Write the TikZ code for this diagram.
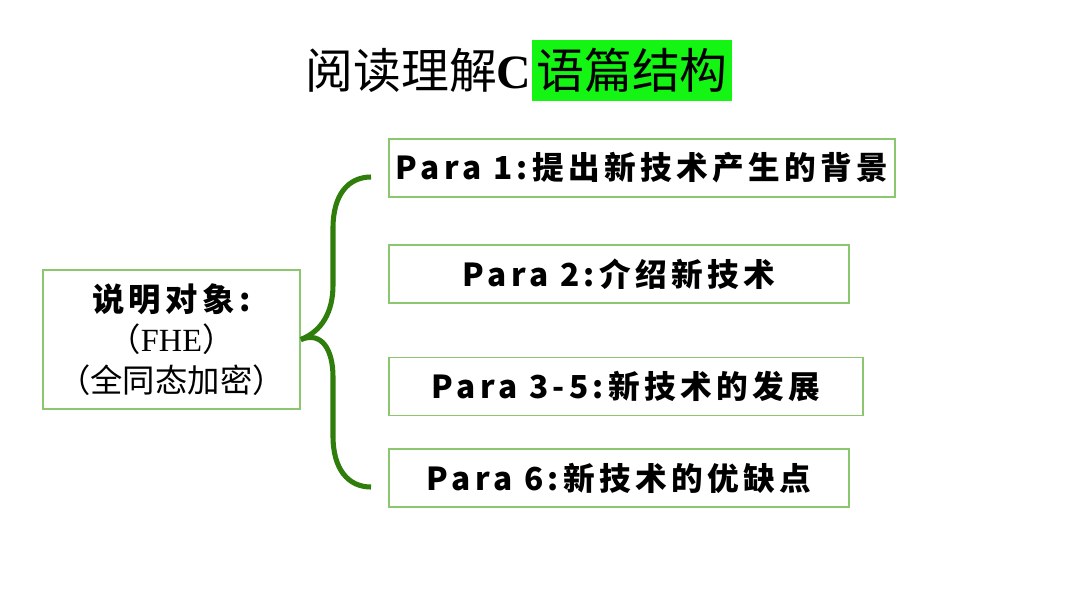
\documentclass[tikz,border=0pt]{standalone}
\usepackage{fontspec}
\setmainfont{Liberation Serif}
\newfontfamily\cjk{Noto Sans CJK SC}
\newfontfamily\parafont[LetterSpace=14]{Noto Sans CJK SC}
\definecolor{boxgreen}{RGB}{140,198,110}
\definecolor{bracegreen}{RGB}{47,125,10}
\definecolor{markgreen}{RGB}{20,245,20}

\begin{document}
\begin{tikzpicture}[x=0.025cm,y=-0.025cm,
    parabox/.style={draw=boxgreen,line width=1.2pt,minimum height=1.45cm,inner sep=0pt,
                    font=\parafont\bfseries\fontsize{22.5pt}{26pt}\selectfont},
    brace/.style={draw=bracegreen,line width=3.6pt}]
\useasboundingbox (0,0) rectangle (1080,608);

  % title
  \node[fill=markgreen,minimum width=5cm,minimum height=1.525cm,inner sep=0pt] (mark) at (632,70.5) {};
  \node[anchor=east,inner sep=0pt,font=\fontsize{34pt}{40pt}\selectfont] (title) at (mark.west) {\cjk 阅读理解{\rmfamily\bfseries C}};
  \node[inner sep=0pt,font=\fontsize{34pt}{40pt}\selectfont] (titlec) at (mark.center) {\cjk 语篇结构};

  % object of the text
  \node[draw=boxgreen,line width=1.2pt,minimum width=6.425cm,minimum height=3.475cm,inner sep=0pt,
        align=center,font=\fontsize{23pt}{29pt}\selectfont] (obj) at (171.5,339.5)
        {{\parafont\bfseries 说明对象:}\\{\cjk （}FHE{\cjk ）}\\{\cjk（全同态加密）}};

  % paragraphs
  \node[parabox,minimum width=12.65cm] (p1) at (642,168) {Para 1:提出新技术产生的背景};
  \node[parabox,minimum width=11.5cm]  (p2) at (619,274) {Para 2:介绍新技术};
  \node[parabox,minimum width=11.85cm] (p3) at (626,386.5) {Para 3-5:新技术的发展};
  \node[parabox,minimum width=11.5cm]  (p4) at (619,478) {Para 6:新技术的优缺点};

  % brace
  \coordinate (bt) at (371,177);
  \coordinate (bb) at (371,487);
  \draw[brace] (obj.east) .. controls (322,331) and (333,312) .. (333,285) -- (333,228)
               .. controls (333,195) and (348,177) .. (bt);
  \draw[brace] (obj.east) .. controls (322,331) and (333,350) .. (333,377) -- (333,436)
               .. controls (333,469) and (348,487) .. (bb);
\end{tikzpicture}
\end{document}
